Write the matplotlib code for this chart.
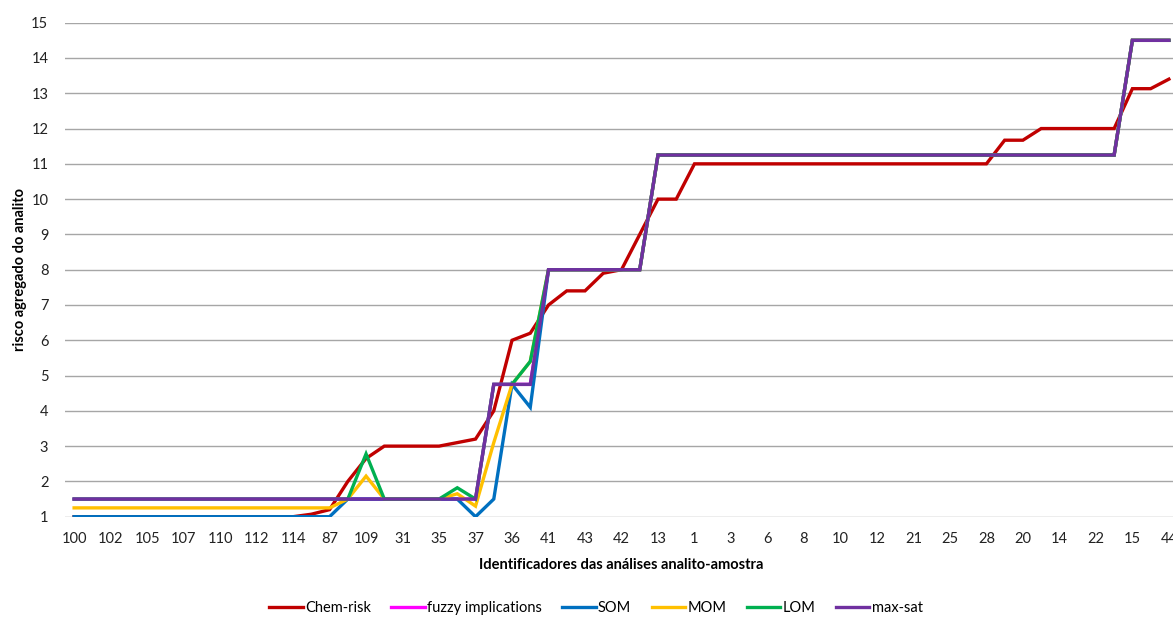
import numpy as np
import matplotlib
matplotlib.use('Agg')
import matplotlib.pyplot as plt

# tick labels (only every second category is labelled on the axis)
tick_labels = ['100', '102', '105', '107', '110', '112', '114', '87', '109', '31',
               '35', '37', '36', '41', '43', '42', '13', '1', '3', '6',
               '8', '10', '12', '21', '25', '28', '20', '14', '22', '15', '44']

chem_risk = [1, 1, 1, 1, 1, 1, 1, 1, 1, 1, 1, 1, 1, 1.07, 1.2, 2.0, 2.65, 3, 3, 3,
             3, 3.1, 3.2, 4.0, 6.0, 6.2, 7.0, 7.4, 7.4, 7.9, 8.0, 9.0, 10, 10, 11, 11, 11, 11, 11, 11,
             11, 11, 11, 11, 11, 11, 11, 11, 11, 11, 11, 11.67, 11.67, 12, 12, 12, 12, 12, 13.13, 13.13,
             13.4]

max_sat = [1.5, 1.5, 1.5, 1.5, 1.5, 1.5, 1.5, 1.5, 1.5, 1.5, 1.5, 1.5, 1.5, 1.5, 1.5, 1.5, 1.5, 1.5, 1.5, 1.5,
           1.5, 1.5, 1.5, 4.75, 4.75, 4.75, 8, 8, 8, 8, 8, 8, 11.25, 11.25, 11.25, 11.25, 11.25, 11.25, 11.25, 11.25,
           11.25, 11.25, 11.25, 11.25, 11.25, 11.25, 11.25, 11.25, 11.25, 11.25, 11.25, 11.25, 11.25, 11.25, 11.25, 11.25, 11.25, 11.25, 14.5, 14.5,
           14.5]

# fuzzy implications is completely hidden under the other lines
fuzzy = list(max_sat)

som = [1, 1, 1, 1, 1, 1, 1, 1, 1, 1, 1, 1, 1, 1, 1, 1.5, 1.5, 1.5, 1.5, 1.5,
       1.5, 1.5, 1.0, 1.5, 4.75, 4.1, 8, 8, 8, 8, 8, 8, 11.25, 11.25, 11.25, 11.25, 11.25, 11.25, 11.25, 11.25,
       11.25, 11.25, 11.25, 11.25, 11.25, 11.25, 11.25, 11.25, 11.25, 11.25, 11.25, 11.25, 11.25, 11.25, 11.25, 11.25, 11.25, 11.25, 14.5, 14.5,
       14.5]

mom = [1.25, 1.25, 1.25, 1.25, 1.25, 1.25, 1.25, 1.25, 1.25, 1.25, 1.25, 1.25, 1.25, 1.25, 1.25, 1.5, 2.15, 1.5, 1.5, 1.5,
       1.5, 1.65, 1.3, 3.1, 4.75, 5.4, 8, 8, 8, 8, 8, 8, 11.25, 11.25, 11.25, 11.25, 11.25, 11.25, 11.25, 11.25,
       11.25, 11.25, 11.25, 11.25, 11.25, 11.25, 11.25, 11.25, 11.25, 11.25, 11.25, 11.25, 11.25, 11.25, 11.25, 11.25, 11.25, 11.25, 14.5, 14.5,
       14.5]

lom = [1.5, 1.5, 1.5, 1.5, 1.5, 1.5, 1.5, 1.5, 1.5, 1.5, 1.5, 1.5, 1.5, 1.5, 1.5, 1.5, 2.78, 1.5, 1.5, 1.5,
       1.5, 1.82, 1.5, 4.75, 4.75, 5.4, 8, 8, 8, 8, 8, 8, 11.25, 11.25, 11.25, 11.25, 11.25, 11.25, 11.25, 11.25,
       11.25, 11.25, 11.25, 11.25, 11.25, 11.25, 11.25, 11.25, 11.25, 11.25, 11.25, 11.25, 11.25, 11.25, 11.25, 11.25, 11.25, 11.25, 14.5, 14.5,
       14.5]

series = [('Chem-risk', chem_risk, '#C00000'),
          ('fuzzy implications', fuzzy, '#FF00FF'),
          ('SOM', som, '#0070C0'),
          ('MOM', mom, '#FFC000'),
          ('LOM', lom, '#00B050'),
          ('max-sat', max_sat, '#7030A0')]

plt.rcParams['font.family'] = ['Lato', 'DejaVu Sans']

fig = plt.figure(figsize=(11.73, 6.17), dpi=100)
ax = fig.add_axes([65 / 1173, 1 - 516.7 / 617, 1113 / 1173, 494 / 617])

x = np.arange(len(chem_risk))
for name, vals, col in series:
    ax.plot(x, vals, color=col, lw=2.4, label=name, solid_joinstyle='miter')

ax.set_xlim(-0.5, len(x) - 0.5)
ax.set_ylim(1, 15)
ax.set_yticks(range(1, 16))
ax.set_xticks(x[::2])
ax.set_xticklabels(tick_labels)
ax.tick_params(axis='both', length=0, labelsize=10.5, colors='#222222')
ax.tick_params(axis='x', pad=11)
ax.tick_params(axis='y', pad=12)
ax.yaxis.grid(True, color='#a6a6a6', lw=1)
ax.set_axisbelow(True)
for s in ax.spines.values():
    s.set_visible(False)

ax.set_xlabel('Identificadores das análises analito-amostra', fontsize=10.5,
              fontweight='bold')
ax.set_ylabel('risco agregado do analito', fontsize=10.5, fontweight='bold')
ax.xaxis.set_label_coords(0.5, -0.083)
ax.yaxis.set_label_coords(-0.034, 0.5)

fig.legend(loc='lower center', bbox_to_anchor=(0.508, -0.018), ncol=6, frameon=False,
           fontsize=10.5, handlelength=2.3, handletextpad=0.15, columnspacing=1.4)

fig.savefig('out.png', dpi=100)
